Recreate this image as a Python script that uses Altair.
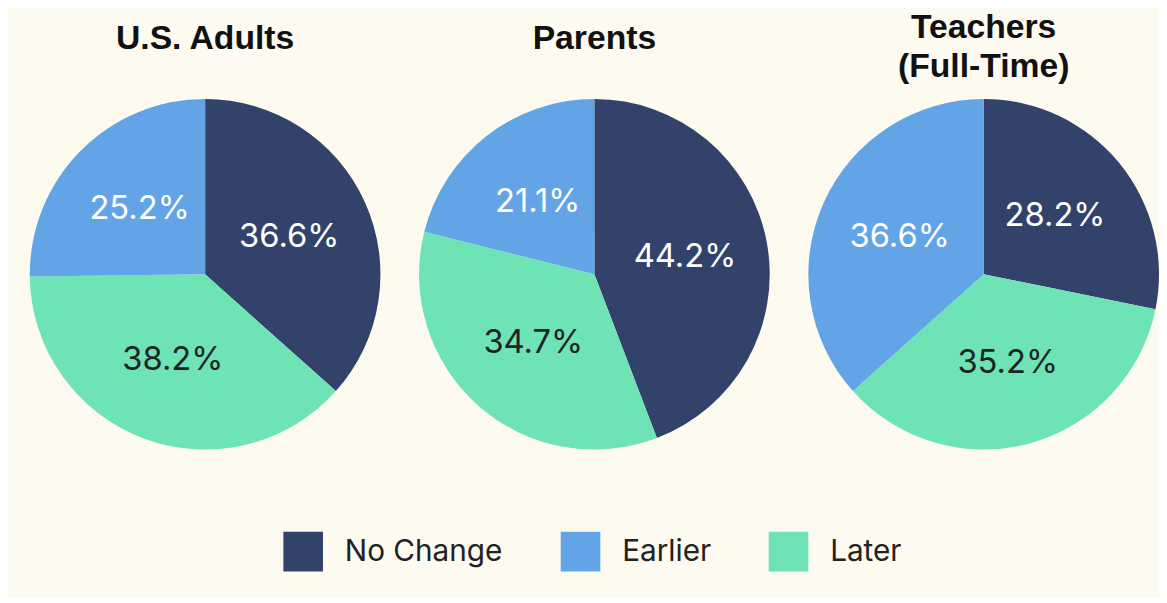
import altair as alt
import pandas as pd

groups = ["U.S. Adults", "Parents", "Teachers\n(Full-Time)"]
categories = ["No Change", "Later", "Earlier"]
no_change = [36.6, 44.2, 28.2]
later = [38.2, 34.7, 35.2]
earlier = [25.2, 21.1, 36.6]

rows = []
for i, g in enumerate(groups):
    for j, (c, v) in enumerate(zip(categories, [no_change[i], later[i], earlier[i]])):
        rows.append({"group": g, "cat": c, "value": v, "order": j,
                     "label": f"{v:.1f}%"})
df = pd.DataFrame(rows)

legend_domain = ["No Change", "Earlier", "Later"]
palette = ["#33426a", "#62a4e5", "#6de3b6"]

color_enc = alt.Color(
    "cat:N", scale=alt.Scale(domain=legend_domain, range=palette),
    legend=alt.Legend(title=None, orient="none", direction="horizontal",
                      legendX=249, legendY=430,
                      symbolType="square", symbolSize=1600,
                      symbolStrokeWidth=0, labelFontSize=30,
                      labelFont="Inter", labelColor="#222222",
                      labelOffset=22, columnPadding=58, symbolOpacity=1))


def pie(g):
    lines = g.split("\n")
    base = alt.Chart(df).transform_filter(alt.datum.group == g)
    arc = base.mark_arc(outerRadius=177, stroke=None).encode(
        theta=alt.Theta("value:Q", stack=True),
        order=alt.Order("order:Q"),
        color=color_enc,
    )
    text = base.mark_text(radius=93, fontSize=33, font="Inter").encode(
        theta=alt.Theta("value:Q", stack=True),
        order=alt.Order("order:Q"),
        text="label:N",
        color=alt.condition("datum.cat == 'Later'", alt.value("#1c2424"),
                            alt.value("#ffffff")),
    )
    title = alt.TitleParams(
        text=lines if len(lines) > 1 else lines[0],
        fontSize=34, fontWeight="bold", font="Liberation Sans", color="#111111",
        anchor="middle", baseline="alphabetic", lineHeight=40,
        offset=16 if len(lines) == 1 else -12,
    )
    return alt.layer(arc, text).properties(width=340, height=340, title=title)


chart = alt.hconcat(*[pie(g) for g in groups], spacing=53, bounds="flush").properties(
    background="#fdfaf0",
    padding={"left": 22, "top": 0, "right": 0, "bottom": 24},
).configure_view(stroke=None)

chart.save("out.html", embed_options={"renderer": "svg", "actions": False})
